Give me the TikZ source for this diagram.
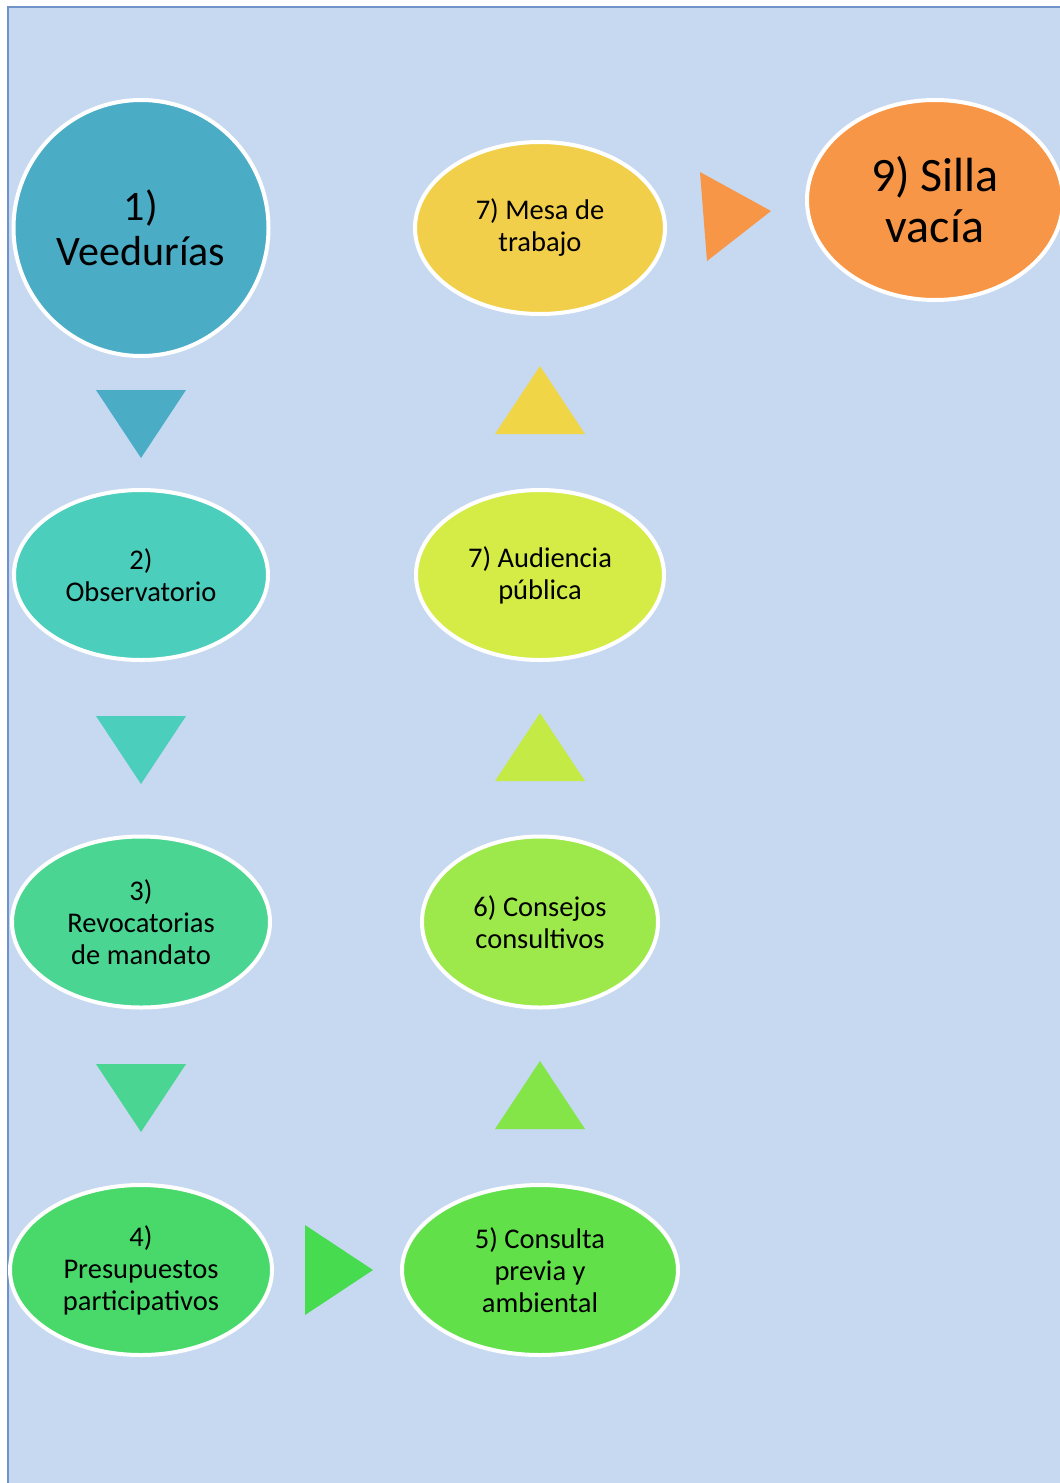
\documentclass[tikz,border=0pt]{standalone}
\usepackage{fontspec}
\setmainfont{Carlito}
\usepackage{xcolor}
\usetikzlibrary{shapes.geometric, positioning}

\definecolor{fondo}{HTML}{C6D9F1}
\definecolor{borde}{HTML}{6F93C9}
\definecolor{cuno}{HTML}{4BACC6}
\definecolor{cdos}{HTML}{4BCEBB}
\definecolor{ctres}{HTML}{4AD592}
\definecolor{ccuatro}{HTML}{48D96A}
\definecolor{ccinco}{HTML}{62E04A}
\definecolor{cseis}{HTML}{9DE84A}
\definecolor{csiete}{HTML}{D5EC47}
\definecolor{cmesa}{HTML}{F2CF4A}
\definecolor{cnueve}{HTML}{F79646}
\definecolor{fcuatro}{HTML}{47DB50}
\definecolor{fcinco}{HTML}{84E548}
\definecolor{fseis}{HTML}{C4EB45}
\definecolor{fsiete}{HTML}{F0D646}

\tikzset{
  paso/.style={ellipse, draw=white, line width=4pt, inner sep=0pt, align=center,
    font=\fontsize{28.5}{32}\selectfont},
  grande/.style={font=\fontsize{42}{45}\selectfont},
  tri/.pic={\fill (-34,-45) -- (-34,45) -- (34,0) -- cycle;}
}

\begin{document}
\begin{tikzpicture}[x=1pt, y=-1pt]
  \useasboundingbox (0,0) rectangle (1060,1483);
  \fill[fondo] (8,7) rectangle (1060,1483);
  \draw[borde, line width=1.2pt] (8,1483) -- (8,7) -- (1060,7);

  % columna izquierda
  \node[paso, grande, fill=cuno, minimum width=255, minimum height=256] (veed) at (141,228) {1)\\Veedurías};
  \node[paso, fill=cdos, minimum width=254, minimum height=170] (obs) at (141,575) {2)\\Observatorio};
  \node[paso, fill=ctres, minimum width=258, minimum height=171] (revo) at (141,922) {3)\\Revocatorias\\de mandato};
  \node[paso, fill=ccuatro, minimum width=262, minimum height=170] (presu) at (141,1270) {4)\\Presupuestos\\participativos};

  % columna derecha
  \node[paso, fill=ccinco, minimum width=276, minimum height=170] (consulta) at (540,1270) {5) Consulta\\previa y\\ambiental};
  \node[paso, fill=cseis, minimum width=236, minimum height=171] (consejos) at (540,922) {6) Consejos\\consultivos};
  \node[paso, fill=csiete, minimum width=248, minimum height=170] (audi) at (540,575) {7) Audiencia\\pública};
  \node[paso, fill=cmesa, minimum width=250, minimum height=172] (mesa) at (540,228) {7) Mesa de\\trabajo};
  \node[paso, font=\fontsize{48}{51}\selectfont, fill=cnueve, minimum width=256, minimum height=200] (silla) at (935,200) {9) Silla\\vacía};

  % flechas
  \pic[cuno, rotate=-90] at (141,424) {tri};
  \pic[cdos, rotate=-90] at (141,750) {tri};
  \pic[ctres, rotate=-90] at (141,1098) {tri};
  \pic[fcuatro] at (339,1270) {tri};
  \pic[fcinco, rotate=90] at (540,1095) {tri};
  \pic[fseis, rotate=90] at (540,747) {tri};
  \pic[fsiete, rotate=90] at (540,400) {tri};
  \fill[cnueve] (700,172) -- (707,261) -- (771,211) -- cycle;
\end{tikzpicture}
\end{document}
